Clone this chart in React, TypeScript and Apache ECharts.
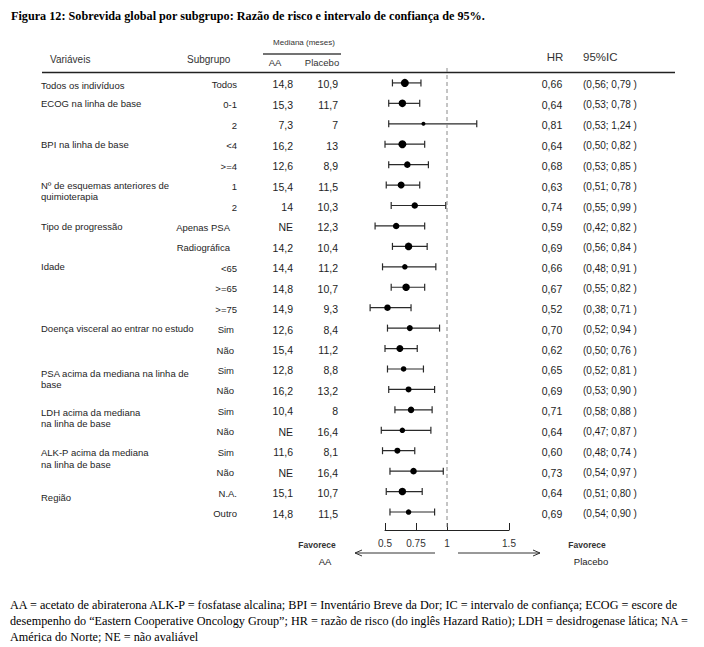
import React, { useEffect, useRef } from "react";
import * as echarts from "echarts";

// ---------- data ----------
const subgroups = [
  "Todos", "0-1", "2", "<4", ">=4", "1", "2", "Apenas PSA", "Radiográfica",
  "<65", ">=65", ">=75", "Sim", "Não", "Sim", "Não", "Sim", "Não", "Sim", "Não", "N.A.", "Outro",
];
const variableLabels = [
  "Todos os indivíduos", "ECOG na linha de base", "", "BPI na linha de base", "",
  "Nº de esquemas anteriores de\nquimioterapia", "", "Tipo de progressão", "", "Idade", "", "",
  "Doença visceral ao entrar no estudo", "", "PSA acima da mediana na linha de\nbase", "",
  "LDH acima da mediana\nna linha de base", "", "ALK-P acima da mediana\nna linha de base", "",
  "Região", "",
];
const medianAA = [
  "14,8", "15,3", "7,3", "16,2", "12,6", "15,4", "14", "NE", "14,2", "14,4", "14,8",
  "14,9", "12,6", "15,4", "12,8", "16,2", "10,4", "NE", "11,6", "NE", "15,1", "14,8",
];
const medianPlacebo = [
  "10,9", "11,7", "7", "13", "8,9", "11,5", "10,3", "12,3", "10,4", "11,2", "10,7",
  "9,3", "8,4", "11,2", "8,8", "13,2", "8", "16,4", "8,1", "16,4", "10,7", "11,5",
];
const hrValues = [
  0.66, 0.64, 0.81, 0.64, 0.68, 0.63, 0.74, 0.59, 0.69, 0.66, 0.67,
  0.52, 0.70, 0.62, 0.65, 0.69, 0.71, 0.64, 0.60, 0.73, 0.64, 0.69,
];
const ciLow = [
  0.56, 0.53, 0.53, 0.50, 0.53, 0.51, 0.55, 0.42, 0.56, 0.48, 0.55,
  0.38, 0.52, 0.50, 0.52, 0.53, 0.58, 0.47, 0.48, 0.54, 0.51, 0.54,
];
const ciHigh = [
  0.79, 0.78, 1.24, 0.82, 0.85, 0.78, 0.99, 0.82, 0.84, 0.91, 0.82,
  0.71, 0.94, 0.76, 0.81, 0.90, 0.88, 0.87, 0.74, 0.97, 0.80, 0.90,
];
// relative weight of each subgroup (marker size in the figure)
const markerWeight = [
  1, 0.9, 0.2, 1, 0.7, 0.8, 0.7, 0.7, 0.9, 0.5, 0.9,
  0.7, 0.6, 0.8, 0.5, 0.6, 0.7, 0.5, 0.6, 0.7, 0.9, 0.5,
];
const xTicks = [0.5, 0.75, 1, 1.5];

const title = "Figura 12: Sobrevida global por subgrupo: Razão de risco e intervalo de confiança de 95%.";
const footnoteLines = [
  "AA = acetato de abiraterona ALK-P = fosfatase alcalina; BPI = Inventário Breve da Dor; IC = intervalo de confiança; ECOG = escore de",
  "desempenho do \u201cEastern Cooperative Oncology Group\u201d; HR = razão de risco (do inglês Hazard Ratio); LDH = desidrogenase lática; NA =",
  "América do Norte; NE = não avaliável",
];

// ---------- styles ----------
const SANS = "'Liberation Sans', Arial, sans-serif";
const SERIF = "'Liberation Serif', 'Times New Roman', serif";
const TXT = "#1e1e1e";
const labelShift: Record<number, number> = { 0: 2, 14: 4, 16: 2, 18: 2, 20: 6 };

const fmt = (v: number) => v.toFixed(2).replace(".", ",");
const subgroupRight = (s: string) => (s.length > 5 ? 230 : s === "Sim" || s === "Não" ? 234 : 237);

export default function App() {
  const ref = useRef<HTMLDivElement>(null);

  useEffect(() => {
    if (!ref.current) return;
    const chart = echarts.init(ref.current, undefined, { renderer: "svg" });

    const forestData = hrValues.map((h, i) => [i, h, ciLow[i], ciHigh[i], markerWeight[i]]);
    const labelData = variableLabels
      .map((t, i) => ({ t, i }))
      .filter((d) => d.t !== "")
      .map((d) => [d.i, 1]);
    const labelTexts = variableLabels.filter((t) => t !== "");

    const arrowStyle = { stroke: "#333", lineWidth: 1 };

    chart.setOption({
      animation: false,
      grid: { left: 385, width: 124, top: 68, height: 462, containLabel: false },
      xAxis: {
        type: "value",
        min: 0.5,
        max: 1.5,
        splitLine: { show: false },
        axisLine: { show: true, onZero: false, lineStyle: { color: "#222", width: 1 } },
        axisTick: { show: true, inside: true, length: 7, customValues: xTicks, lineStyle: { color: "#222" } },
        axisLabel: {
          customValues: xTicks,
          formatter: (v: number) => String(v),
          fontFamily: SANS,
          fontSize: 10,
          color: "#333",
          margin: 8,
        },
      },
      yAxis: {
        type: "value",
        inverse: true,
        min: -0.73,
        max: 21.88,
        show: false,
      },
      series: [
        {
          type: "line",
          data: [[1, -0.73], [1, 21.88]],
          symbol: "none",
          lineStyle: { color: "#8a8a8a", width: 1, type: [4, 3] },
          silent: true,
        },
        {
          type: "custom",
          clip: false,
          data: forestData,
          encode: { x: [1, 2, 3], y: 0 },
          renderItem: (params: any, api: any) => {
            const i = params.dataIndex;
            const row = api.value(0);
            const [xHr, y] = api.coord([api.value(1), row]);
            const xLo = api.coord([api.value(2), row])[0];
            const xHi = api.coord([api.value(3), row])[0];
            const r = (3 + api.value(4) * 5) / 2;
            const ty = y + 1.5;
            const bar = { stroke: "#2a2a2a", lineWidth: 1.2 };
            const txt = (text: string, x: number, align: string, size: number) => ({
              type: "text",
              style: { text, x, y: ty, align, verticalAlign: "middle", fontFamily: SANS, fontSize: size, fill: TXT },
            });
            return {
              type: "group",
              children: [
                { type: "line", shape: { x1: xLo, y1: y, x2: xHi, y2: y }, style: bar },
                { type: "line", shape: { x1: xLo, y1: y - 3.5, x2: xLo, y2: y + 3.5 }, style: bar },
                { type: "line", shape: { x1: xHi, y1: y - 3.5, x2: xHi, y2: y + 3.5 }, style: bar },
                { type: "circle", shape: { cx: xHr, cy: y, r }, style: { fill: "#000" } },
                txt(subgroups[i], subgroupRight(subgroups[i]), "right", 9.5),
                txt(medianAA[i], 293, "right", 10.5),
                txt(medianPlacebo[i], 338, "right", 10.5),
                txt(fmt(hrValues[i]), 552, "center", 10.5),
                txt(`(${fmt(ciLow[i])}; ${fmt(ciHigh[i])} )`, 583, "left", 10),
              ],
            };
          },
        },
        {
          type: "custom",
          clip: false,
          data: labelData,
          encode: { x: 1, y: 0 },
          renderItem: (params: any, api: any) => {
            const row = api.value(0);
            const y = api.coord([1, row])[1];
            const shift = labelShift[row] || 0;
            return {
              type: "text",
              style: {
                text: labelTexts[params.dataIndex],
                x: 41,
                y: y + shift - 5.5,
                align: "left",
                verticalAlign: "top",
                lineHeight: 11.3,
                fontFamily: SANS,
                fontSize: 9.5,
                fill: TXT,
              },
            };
          },
        },
      ],
      graphic: [
        {
          type: "text",
          style: { text: title, x: 11, y: 16, verticalAlign: "middle", fontFamily: SERIF, fontWeight: "bold", fontSize: 12.2, fill: "#000" },
        },
        { type: "text", style: { text: "Variáveis", x: 50, y: 59, verticalAlign: "middle", fontFamily: SANS, fontSize: 10, fill: "#333" } },
        { type: "text", style: { text: "Subgrupo", x: 187, y: 59, verticalAlign: "middle", fontFamily: SANS, fontSize: 10, fill: "#333" } },
        { type: "text", style: { text: "Mediana (meses)", x: 304, y: 42, align: "center", verticalAlign: "middle", fontFamily: SANS, fontSize: 8, fill: "#333" } },
        { type: "line", shape: { x1: 263, y1: 54, x2: 341, y2: 54 }, style: { stroke: "#444", lineWidth: 1.5 } },
        { type: "text", style: { text: "AA", x: 275, y: 62, align: "center", verticalAlign: "middle", fontFamily: SANS, fontSize: 9.5, fill: "#333" } },
        { type: "text", style: { text: "Placebo", x: 322, y: 62, align: "center", verticalAlign: "middle", fontFamily: SANS, fontSize: 9.5, fill: "#333" } },
        { type: "text", style: { text: "HR", x: 555, y: 57, align: "center", verticalAlign: "middle", fontFamily: SANS, fontSize: 11.5, fill: "#333" } },
        { type: "text", style: { text: "95%IC", x: 583, y: 57, verticalAlign: "middle", fontFamily: SANS, fontSize: 11.5, fill: "#333" } },
        { type: "line", shape: { x1: 42, y1: 72.5, x2: 675, y2: 72.5 }, style: { stroke: "#222", lineWidth: 1.5 } },
        // favour arrows
        { type: "line", shape: { x1: 355, y1: 553, x2: 435, y2: 553 }, style: arrowStyle },
        { type: "polyline", shape: { points: [[362, 550], [355, 553], [362, 556]] }, style: arrowStyle },
        { type: "line", shape: { x1: 458, y1: 553, x2: 540, y2: 553 }, style: arrowStyle },
        { type: "polyline", shape: { points: [[533, 550], [540, 553], [533, 556]] }, style: arrowStyle },
        { type: "text", style: { text: "Favorece", x: 317, y: 545, align: "center", verticalAlign: "middle", fontFamily: SANS, fontWeight: "bold", fontSize: 8.5, fill: "#333" } },
        { type: "text", style: { text: "AA", x: 325, y: 561, align: "center", verticalAlign: "middle", fontFamily: SANS, fontSize: 9.5, fill: "#222" } },
        { type: "text", style: { text: "Favorece", x: 587, y: 545, align: "center", verticalAlign: "middle", fontFamily: SANS, fontWeight: "bold", fontSize: 8.5, fill: "#333" } },
        { type: "text", style: { text: "Placebo", x: 591, y: 561, align: "center", verticalAlign: "middle", fontFamily: SANS, fontSize: 9.5, fill: "#222" } },
        ...footnoteLines.map((t, k) => ({
          type: "text",
          style: { text: t, x: 10, y: 605 + k * 16, verticalAlign: "middle", fontFamily: SERIF, fontSize: 12.2, fill: "#000" },
        })),
      ],
    });

    return () => chart.dispose();
  }, []);

  return (
    <div
      ref={ref}
      style={{ position: "fixed", left: 0, top: 0, width: 704, height: 647, background: "#fff" }}
    />
  );
}
